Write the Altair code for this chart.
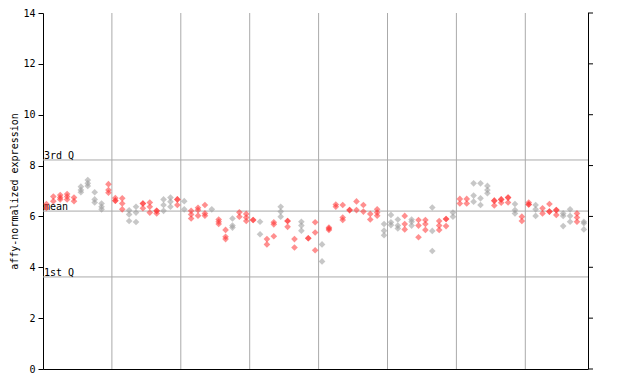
import altair as alt
import pandas as pd

# replicate values per sample column (1..79)
col_values = [
    [6.49, 6.33], [6.78, 6.6], [6.84, 6.74, 6.67], [6.88, 6.78, 6.67], [6.74, 6.6],
    [7.17, 7.04, 6.95], [7.43, 7.3, 7.2], [6.95, 6.67, 6.55], [6.51, 6.38, 6.28], [7.27, 7.04, 6.93],
    [6.72, 6.62, 6.62], [6.71, 6.51, 6.28], [6.24, 6.08, 5.82], [6.38, 6.15, 5.78], [6.51, 6.51, 6.32],
    [6.55, 6.38, 6.15], [6.22, 6.22, 6.12], [6.67, 6.45, 6.22], [6.74, 6.58, 6.38], [6.67, 6.67, 6.45],
    [6.6, 6.28], [6.22, 6.08, 5.92], [6.34, 6.25, 6.03], [6.45, 6.12, 6.03], [6.28],
    [5.88, 5.79, 5.7], [5.47, 5.2, 5.11], [5.92, 5.64, 5.56], [6.16, 5.99], [6.1, 5.96, 5.82],
    [5.86, 5.86], [5.79, 5.3], [5.11, 4.9], [5.77, 5.69, 5.22], [6.38, 6.19, 5.99],
    [5.82, 5.82, 5.59], [5.11, 4.78], [5.79, 5.64, 5.44], [5.14, 5.14], [5.77, 5.37, 4.67],
    [4.9, 4.23], [5.56, 5.47, 5.52], [6.47, 6.38], [6.45, 5.96, 5.86], [6.25, 6.25],
    [6.59, 6.25], [6.45, 6.19], [6.1, 5.88], [6.28, 6.15, 6.03], [5.7, 5.44, 5.26],
    [6.06, 5.77, 5.66], [5.88, 5.64, 5.53], [6.02, 5.7, 5.49], [5.88, 5.79, 5.64], [5.86, 5.64, 5.18],
    [5.86, 5.7, 5.47], [6.35, 5.43, 4.64], [5.82, 5.64, 5.47], [5.9, 5.9, 5.62], [6.15, 5.99],
    [6.69, 6.51], [6.69, 6.51], [7.3, 6.82, 6.58], [7.3, 6.71, 6.45], [7.2, 7.04, 6.91],
    [6.62, 6.62, 6.43], [6.67, 6.67, 6.54], [6.74, 6.74, 6.55], [6.49, 6.25, 6.12], [5.99, 5.82],
    [6.55, 6.47, 6.47], [6.45, 6.28, 6.02], [6.32, 6.12], [6.49, 6.19, 6.19], [6.25, 6.25, 6.06],
    [6.12, 6.02, 5.62], [6.28, 6.02, 5.79], [6.12, 5.96, 5.79], [5.79, 5.73, 5.49],
]
col_groups = (
    "rrrrr" "gggg" "rrr" "gg" "rrr" "gg" "r" "g" "rrr" "g" "rr" "g" "rrr" "g" "rr"
    "g" "rr" "g" "rr" "g" "rrrrrrrr" "ggg" "r" "g" "rr" "g" "rr" "g" "rr" "ggg"
    "rrr" "g" "rr" "g" "rrr" "gg" "r" "g"
)

q_names = ["3rd Q", "mean", "1st Q"]
q_values = [8.22, 6.21, 3.62]
x_grid = [10, 20, 30, 40, 50, 60, 70]
y_ticks = [0, 2, 4, 6, 8, 10, 12, 14]

rows = []
for i, vals in enumerate(col_values):
    for v in vals:
        rows.append({"x": i + 0.5, "y": v, "g": col_groups[i] if i < len(col_groups) else "r"})
pts = pd.DataFrame(rows)
qdf = pd.DataFrame({"name": q_names, "y": q_values})
gdf = pd.DataFrame({"x": x_grid})
tdf = pd.DataFrame({"y": y_ticks})

FONT = "DejaVu Sans Mono"
xs = alt.Scale(domain=[0, 79.1], nice=False, zero=False)
ys = alt.Scale(domain=[0, 14], nice=False, zero=False)

xaxis = alt.Axis(labels=False, ticks=False, grid=False, title=None, domainColor="black")
yaxis = alt.Axis(values=y_ticks, grid=False, title="affy-normalized expression",
                 labelFont=FONT, labelFontSize=10, labelColor="black", tickColor="black",
                 domainColor="black", tickSize=5, labelPadding=3,
                 titleFont=FONT, titleFontSize=10, titleFontWeight="normal", titleColor="black",
                 titlePadding=3)

grid = alt.Chart(gdf).mark_rule(color="#aaaaaa", strokeWidth=1).encode(
    x=alt.X("x:Q", scale=xs, axis=xaxis),
    y=alt.value(0), y2=alt.value(356)
)
qlines = alt.Chart(qdf).mark_rule(color="#aaaaaa", strokeWidth=1).encode(
    y=alt.Y("y:Q", scale=ys, axis=yaxis),
    x=alt.value(0), x2=alt.value(545)
)
qtext = alt.Chart(qdf).mark_text(align="left", baseline="bottom", font=FONT, fontSize=10,
                                   color="black", dx=1, dy=1).encode(
    y=alt.Y("y:Q", scale=ys), x=alt.value(0), text="name:N"
)
points = alt.Chart(pts).mark_point(shape="diamond", filled=True, size=44, opacity=0.55).encode(
    x=alt.X("x:Q", scale=xs, axis=xaxis),
    y=alt.Y("y:Q", scale=ys, axis=yaxis),
    color=alt.Color("g:N", scale=alt.Scale(domain=["r", "g"], range=["#ff3333", "#999999"]), legend=None),
)
right_line = alt.Chart(tdf).mark_rule(color="black", strokeWidth=1).encode(
    x=alt.value(545.5), y=alt.value(0), y2=alt.value(356)
)
right_ticks = alt.Chart(tdf).mark_rule(color="black", strokeWidth=1).encode(
    y=alt.Y("y:Q", scale=ys, axis=yaxis), x=alt.value(545), x2=alt.value(551)
)

chart = alt.layer(grid, qlines, qtext, points, right_line, right_ticks).properties(
    width=545, height=356,
    autosize=alt.AutoSizeParams(type="none"),
    padding={"left": 35, "top": 5, "right": 5, "bottom": 5},
).configure_view(stroke=None).configure_axis(domainWidth=1, tickWidth=1)

chart.save("out.html", embed_options={"renderer": "svg", "actions": False})
